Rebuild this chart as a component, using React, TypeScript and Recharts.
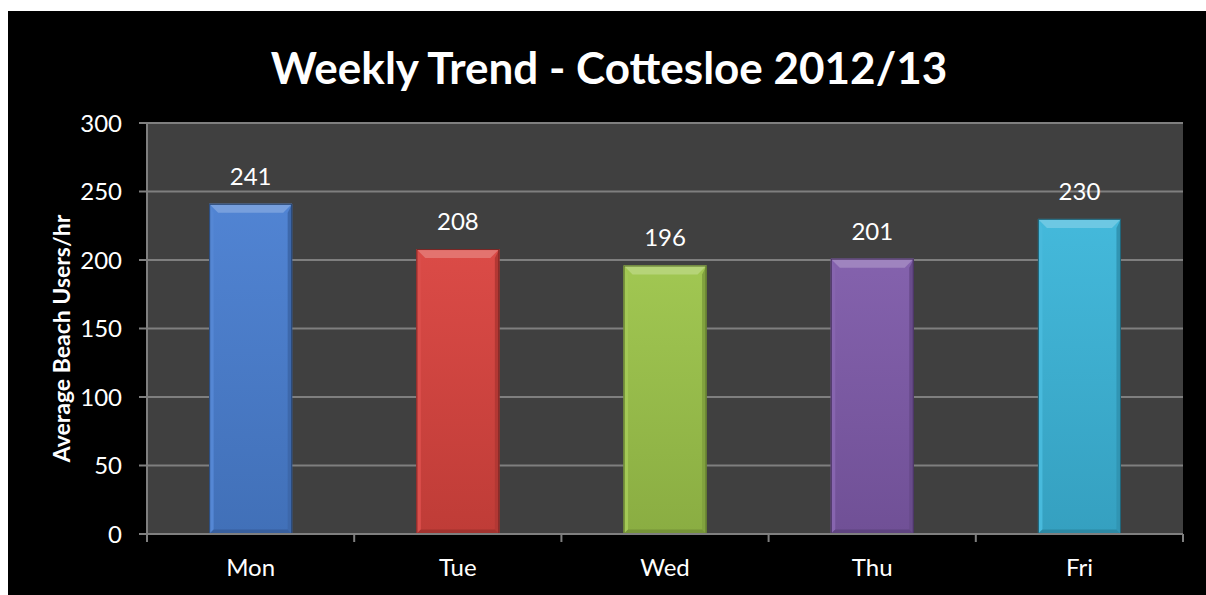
import React from 'react';
import { BarChart, Bar, XAxis, YAxis, CartesianGrid, LabelList, Label, Cell } from 'recharts';

const days = ['Mon', 'Tue', 'Wed', 'Thu', 'Fri'];
const avgUsers = [241, 208, 196, 201, 230];
const barColors = ['#4A7FD1', '#D9443F', '#9DC54B', '#7F5BAA', '#3CB6DA'];
const yTicks = [0, 50, 100, 150, 200, 250, 300];
const chartTitle = 'Weekly Trend - Cottesloe 2012/13';
const yTitle = 'Average Beach Users/hr';

const data = days.map((d, i) => ({ day: d, users: avgUsers[i], color: barColors[i] }));

const FONT = 'Lato, "Open Sans", sans-serif';
const GRID = '#7f7f7f';

function mix(hex: string, amt: number): string {
  const n = parseInt(hex.slice(1), 16);
  let r = (n >> 16) & 255, g = (n >> 8) & 255, b = n & 255;
  const t = amt > 0 ? 255 : 0;
  const a = Math.abs(amt);
  r = Math.round(r + (t - r) * a);
  g = Math.round(g + (t - g) * a);
  b = Math.round(b + (t - b) * a);
  return `rgb(${r},${g},${b})`;
}

const BevelBar = (props: any) => {
  const { x, y, width, height, index } = props;
  const base: string = props.payload?.color ?? props.fill;
  if (!height || height <= 0) return null;
  const bv = Math.min(9, width / 4, height / 2);
  const id = `g${index}`;
  return (
    <g>
      <defs>
        <linearGradient id={id} x1="0" y1="0" x2="0" y2="1">
          <stop offset="0" stopColor={mix(base, 0.04)} />
          <stop offset="1" stopColor={mix(base, -0.12)} />
        </linearGradient>
      </defs>
      <rect x={x} y={y} width={width} height={height} fill={`url(#${id})`} />
      <polygon
        points={`${x},${y} ${x + width},${y} ${x + width - bv},${y + bv} ${x + bv},${y + bv}`}
        fill={mix(base, 0.25)}
      />
      <polygon
        points={`${x},${y} ${x + bv * 0.5},${y + bv} ${x + bv * 0.5},${y + height - bv * 0.5} ${x},${y + height}`}
        fill={mix(base, 0.06)}
      />
      <polygon
        points={`${x + width},${y} ${x + width - bv * 0.5},${y + bv} ${x + width - bv * 0.5},${y + height - bv * 0.5} ${x + width},${y + height}`}
        fill={mix(base, -0.18)}
      />
      <polygon
        points={`${x},${y + height} ${x + bv * 0.5},${y + height - bv * 0.5} ${x + width - bv * 0.5},${y + height - bv * 0.5} ${x + width},${y + height}`}
        fill={mix(base, -0.25)}
      />
      <rect x={x + 0.5} y={y + 0.5} width={width - 1} height={height - 1} fill="none" stroke={mix(base, -0.45)} strokeWidth={1} />
    </g>
  );
};

const DayTick = (props: any) => {
  const { x, y, payload, index, visibleTicksCount } = props;
  const half = payload?.offset ?? 0;
  const last = index === (visibleTicksCount ?? days.length) - 1;
  return (
    <g>
      <line x1={x - half} y1={y - 8} x2={x - half} y2={y} stroke={GRID} strokeWidth={2} />
      {last && <line x1={x + half} y1={y - 8} x2={x + half} y2={y} stroke={GRID} strokeWidth={2} />}
      <text x={x} y={y + 34} textAnchor="middle" fill="#ffffff" fontSize={24} fontFamily={FONT}>
        {payload.value}
      </text>
    </g>
  );
};

export default function App() {
  return (
    <>
      <style>{`html,body{margin:0;padding:0;overflow:hidden;background:#fff}`}</style>
      <div style={{ position: 'absolute', left: 8, top: 11, width: 1198, height: 584, background: '#000' }}>
        <svg width={1198} height={100} style={{ position: 'absolute', left: 0, top: 0, pointerEvents: 'none' }}>
          <text x={601} y={73} textAnchor="middle" fill="#ffffff" fontSize={44} fontWeight={700} fontFamily={FONT}>
            {chartTitle}
          </text>
        </svg>
        <BarChart
          width={1198}
          height={584}
          data={data}
          margin={{ top: 112, right: 23, bottom: 0, left: 0 }}
          barCategoryGap="30%"
        >
          <CartesianGrid vertical={false} stroke={GRID} strokeWidth={2} fill="#404040" />
          <XAxis
            dataKey="day"
            height={61}
            axisLine={{ stroke: GRID, strokeWidth: 2 }}
            tickLine={false}
            tickSize={8}
            tickMargin={0}
            tick={<DayTick />}
            interval={0}
          />
          <YAxis
            width={139}
            domain={[0, 300]}
            ticks={yTicks}
            interval={0}
            axisLine={{ stroke: GRID, strokeWidth: 2 }}
            tickLine={{ stroke: GRID, strokeWidth: 2 }}
            tickSize={8}
            tickMargin={17}
            tick={{ fill: '#ffffff', fontSize: 24, fontFamily: FONT }}
          >
            <Label
              content={(p: any) => {
                const vb = p.viewBox || { x: 0, y: 112, width: 139, height: 411 };
                const cx = vb.x + 53;
                const cy = vb.y + vb.height / 2 + 10;
                return (
                  <text
                    x={cx}
                    y={cy}
                    transform={`rotate(-90, ${cx}, ${cy})`}
                    textAnchor="middle"
                    dominantBaseline="central"
                    fill="#ffffff"
                    fontSize={23}
                    fontWeight={700}
                    fontFamily={FONT}
                  >
                    {yTitle}
                  </text>
                );
              }}
            />
          </YAxis>
          <Bar dataKey="users" isAnimationActive={false} shape={<BevelBar />}>
            {data.map((d, i) => (
              <Cell key={i} fill={d.color} />
            ))}
            <LabelList dataKey="users" position="top" offset={19} fill="#ffffff" fontSize={24} fontFamily={FONT} />
          </Bar>
        </BarChart>
      </div>
    </>
  );
}
